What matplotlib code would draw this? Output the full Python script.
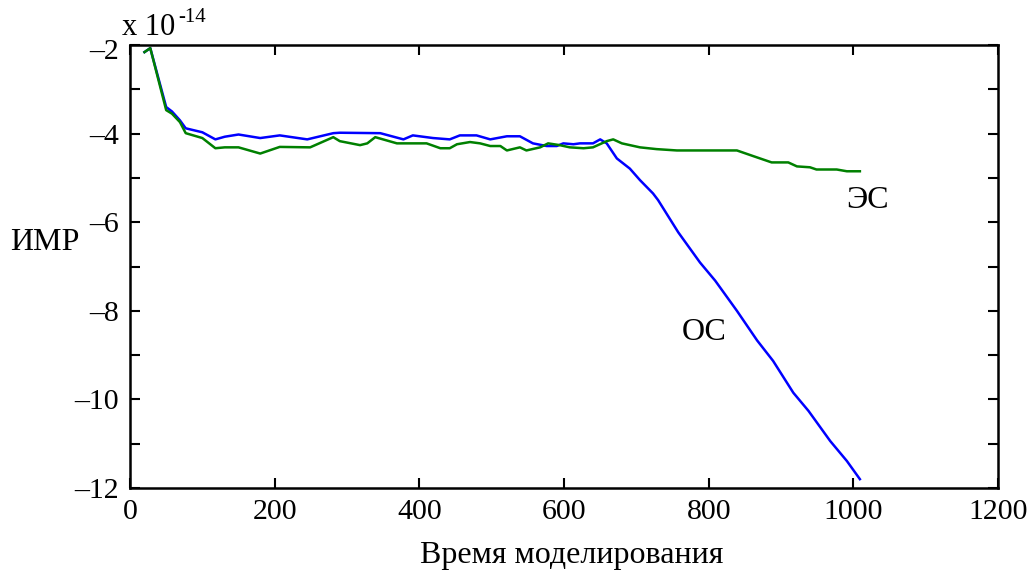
import matplotlib.pyplot as plt
import numpy as np
from matplotlib.ticker import MultipleLocator, FuncFormatter

plt.rcParams['font.family'] = ['Liberation Serif', 'DejaVu Serif']

# values in units of 1e-14
os_x = [20, 28, 50, 58, 69, 77, 100, 118, 131, 150, 180, 207, 245, 281, 290, 346,
        378, 391, 419, 442, 456, 479, 498, 521, 539, 557, 576, 590, 599, 613, 622,
        640, 650, 659, 673, 691, 705, 723, 730, 758, 788, 809, 839, 867, 889, 917,
        938, 968, 991, 1009]
os_y = [-2.16, -2.07, -3.40, -3.50, -3.70, -3.88, -3.97, -4.13, -4.07, -4.02, -4.10,
        -4.04, -4.13, -3.99, -3.98, -3.99, -4.13, -4.04, -4.10, -4.13, -4.04, -4.04,
        -4.13, -4.06, -4.06, -4.22, -4.28, -4.28, -4.22, -4.24, -4.22, -4.22, -4.13,
        -4.22, -4.56, -4.79, -5.05, -5.35, -5.50, -6.23, -6.91, -7.32, -8.00, -8.67,
        -9.13, -9.85, -10.26, -10.94, -11.39, -11.80]

es_x = [20, 28, 50, 58, 69, 77, 100, 118, 131, 150, 180, 207, 249, 281, 290, 318,
        328, 339, 369, 410, 429, 442, 452, 470, 484, 498, 512, 521, 539, 548, 567,
        578, 594, 608, 627, 640, 659, 668, 680, 705, 728, 756, 788, 839, 862, 887,
        910, 922, 940, 949, 977, 991, 1009]
es_y = [-2.16, -2.07, -3.47, -3.55, -3.74, -3.99, -4.10, -4.33, -4.31, -4.31, -4.45,
        -4.30, -4.31, -4.08, -4.17, -4.26, -4.22, -4.08, -4.22, -4.22, -4.33, -4.33,
        -4.24, -4.19, -4.22, -4.28, -4.28, -4.38, -4.31, -4.38, -4.31, -4.22, -4.26,
        -4.31, -4.33, -4.31, -4.17, -4.13, -4.22, -4.31, -4.35, -4.38, -4.38, -4.38,
        -4.51, -4.65, -4.65, -4.74, -4.76, -4.81, -4.81, -4.85, -4.85]

fig = plt.figure(figsize=(10.27, 5.75), dpi=100)
ax = fig.add_axes([0.1266, 0.1513, 0.8452, 0.7704])

ax.plot(os_x, os_y, color='#0000ff', lw=1.8)
ax.plot(es_x, es_y, color='#008000', lw=1.8)

ax.text(1020, -5.5, 'ЭС', fontsize=23, ha='center', va='center')
ax.text(794, -8.5, 'ОС', fontsize=23, ha='center', va='center')

ax.set_xlim(0, 1200)
ax.set_ylim(-12, -2)
ax.xaxis.set_major_locator(MultipleLocator(200))
ax.yaxis.set_major_locator(MultipleLocator(2))
ax.yaxis.set_minor_locator(MultipleLocator(1))


def ylab(v, p):
    if abs(v + 2) < 1e-6:
        return ''  # drawn by hand below, a bit lower
    return '%d' % v if v >= 0 else '\u2013%d' % -v


ax.yaxis.set_major_formatter(FuncFormatter(ylab))

ax.tick_params(which='both', direction='in', top=True, right=True,
               length=7, width=1.5, labelsize=21.5)
ax.tick_params(axis='x', pad=8)
ax.tick_params(axis='y', pad=8)
for s in ax.spines.values():
    s.set_linewidth(1.8)

ax.annotate('\u20132', xy=(0, -2), xycoords=('axes fraction', 'data'),
            xytext=(-8, -5), textcoords='offset points',
            ha='right', va='center', fontsize=21.5)

fig.text(0.557, 1 - 555 / 575, 'Время моделирования', fontsize=23, ha='center', va='center')
fig.text(0.044, 1 - 243 / 575, 'ИМР', fontsize=23, ha='center', va='center')
fig.text(122 / 1027, 1 - 35 / 575, 'x 10', fontsize=22, ha='left', va='baseline')
fig.text(178 / 1027, 1 - 18 / 575, '-14', fontsize=15, ha='left', va='center')

fig.savefig('out.png', dpi=100)
